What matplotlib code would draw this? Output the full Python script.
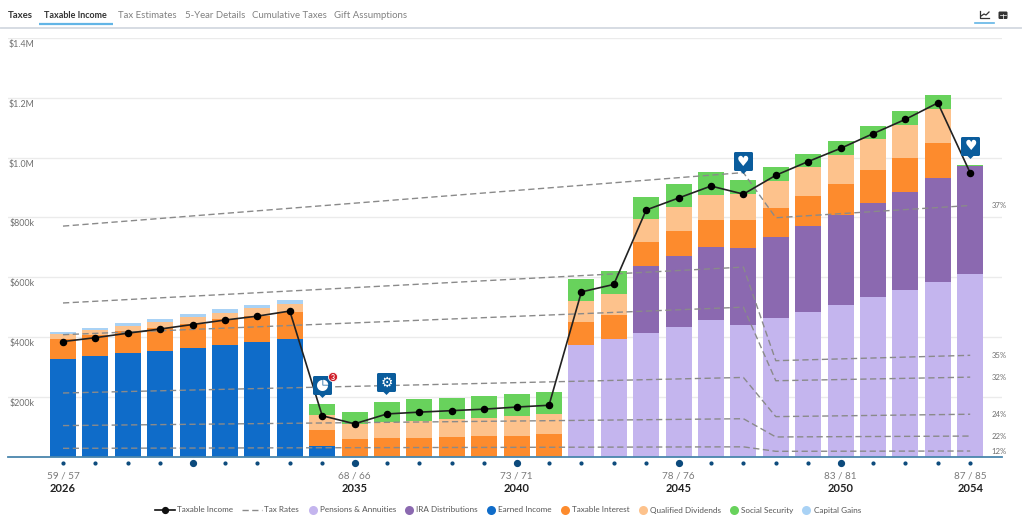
import matplotlib
matplotlib.use("Agg")
import matplotlib.pyplot as plt
import numpy as np
from matplotlib.lines import Line2D
from matplotlib.patches import FancyBboxPatch, Polygon, Circle, Wedge
from matplotlib.transforms import ScaledTranslation

plt.rcParams['font.family'] = ['Lato', 'DejaVu Sans']

years = list(range(2026, 2055))
pensions = [0]*16 + [374, 394, 414, 434, 457, 440, 463, 485, 508, 534, 556, 585, 611]
ira = [0]*18 + [222, 236, 245, 259, 272, 288, 299, 315, 330, 346, 360]
earned = [328, 337, 346, 355, 363, 374, 382, 392, 35] + [0]*20
interest = [65, 69, 73, 77, 81, 85, 89, 93, 54, 58, 61, 64, 66, 69, 70, 75,
            75, 79, 82, 84, 88, 92, 96, 100, 105, 108, 114, 119, 0]
qualified = [16, 17, 19, 20, 22, 23, 25, 27, 50, 53, 54, 55, 59, 61, 66, 67,
             71, 72, 77, 80, 85, 88, 91, 95, 98, 105, 109, 113, 0]
social = [0]*8 + [37, 39, 68, 73, 72, 73, 74, 74,
                  74, 76, 75, 77, 77, 47, 45, 45, 47, 45, 46, 48, 5]
capital = [8, 9, 9, 10, 10, 11, 11, 12] + [0]*21
taxable = [385, 398, 413, 427, 442, 457, 470, 487, 137, 110, 143, 149, 154, 159, 166, 172,
           551, 576, 825, 865, 905, 878, 941, 987, 1031, 1080, 1128, 1183, 949]

rate_years = [2026, 2047, 2048, 2054]
rates = {
    '37%': [771, 950, 799, 840],
    '35%': [514, 634, 321, 339],
    '32%': [408, 500, 254, 266],
    '24%': [213, 265, 134, 142],
    '22%': [104, 127, 66, 69],
    '12%': [28, 33, 18, 19],
}
tick_years = [2026, 2035, 2040, 2045, 2050, 2054]
age_labels = ['59 / 57', '68 / 66', '73 / 71', '78 / 76', '83 / 81', '87 / 85']
big_dot_years = [2030, 2035, 2040, 2045, 2050]
y_ticks = [200, 400, 600, 800, 1000, 1200, 1400]
y_labels = ['$200k', '$400k', '$600k', '$800k', '$1.0M', '$1.2M', '$1.4M']
tabs = ['Taxes', 'Taxable Income', 'Tax Estimates', '5-Year Details', 'Cumulative Taxes', 'Gift Assumptions']
tab_x = [8, 44, 118, 185, 252, 334]
tab_size = [6.9, 6.5, 6.9, 6.9, 6.9, 6.9]

series = [
    ('Pensions & Annuities', pensions, '#c4b5ee'),
    ('IRA Distributions', ira, '#8b69b0'),
    ('Earned Income', earned, '#0f6cc9'),
    ('Taxable Interest', interest, '#fd8b2d'),
    ('Qualified Dividends', qualified, '#fdc28c'),
    ('Social Security', social, '#68d25c'),
    ('Capital Gains', capital, '#a9d2f5'),
]

W, H = 1024, 518
fig = plt.figure(figsize=(W/100, H/100), dpi=100, facecolor='white')
L, R, T, B = 8, 1002, 38, 456.7
ax = fig.add_axes([L/W, 1-B/H, (R-L)/W, (B-T)/H])
ax.set_xlim(2026-55/32.4, 2026+939/32.4)
ax.set_ylim(0, 1400)
for s in ['top', 'left', 'right']:
    ax.spines[s].set_visible(False)
ax.spines['bottom'].set_color('#4a86ad')
ax.spines['bottom'].set_linewidth(1.3)
ax.set_axisbelow(True)
ax.yaxis.grid(True, color='#ebebeb', lw=1)
ax.set_yticks(y_ticks, y_labels)
ax.tick_params(axis='y', length=0, pad=-18.9, labelsize=6.4, labelcolor='#6f6f6f')
shift = ScaledTranslation(0, -2/100, fig.dpi_scale_trans)
for t in ax.get_yticklabels():
    t.set_va('top'); t.set_ha('right')
    t.set_transform(t.get_transform() + shift)
ax.set_xticks(tick_years, age_labels)
ax.tick_params(axis='x', length=0, pad=11, labelsize=7.2, labelcolor='#7a7a7a')

bottom = np.zeros(len(years))
handles = []
for name, vals, col in series:
    ax.bar(years, vals, bottom=bottom, width=0.8, color=col, linewidth=0, zorder=2)
    bottom += np.array(vals)
    handles.append(Line2D([], [], ls='none', marker='o', ms=6.5, mfc=col, mec='none', label=name))

for lab, vals in rates.items():
    ax.plot(rate_years, vals, color='#8a8a8a', lw=1, dashes=(4.5, 2.5), zorder=3)
    ax.text(2054.66, vals[-1], lab, fontsize=5.6, color='#6f6f6f', va='center', ha='left', zorder=5)

ax.plot(years, taxable, color='#222222', lw=1.2, marker='o', ms=4.4,
        mfc='black', mec='black', zorder=4)

trans = ax.get_xaxis_transform()
dy = -(463.3-B)/(B-T)
for yr in years:
    big = yr in big_dot_years
    ax.plot([yr], [dy], transform=trans, clip_on=False, marker='o',
            ms=4.2 if big else 2, color='#0c4a7c', ls='none')
for yr in tick_years:
    ax.text(yr, -(488-B)/(B-T), str(yr), transform=trans, ha='center', va='center',
            fontsize=8, fontweight='bold', color='#222222')

tax_h = Line2D([], [], color='#111111', lw=1.2, marker='o', ms=4.2, label='Taxable Income')
rate_h = Line2D([], [], color='#8a8a8a', lw=1, dashes=(4.5, 2.5), label='Tax Rates')
leg1 = fig.legend(handles=[tax_h, rate_h], loc='center left', bbox_to_anchor=(155/W, 1-510/H),
                  ncols=2, frameon=False, fontsize=5.9, labelcolor='#555555', borderaxespad=0,
                  handlelength=2.44, handletextpad=0.25, columnspacing=1.1, borderpad=0)
leg2 = fig.legend(handles=handles, loc='center left', bbox_to_anchor=(308.5/W, 1-510/H),
                  ncols=7, frameon=False, fontsize=5.9, labelcolor='#555555', borderaxespad=0,
                  handlelength=1.0, handletextpad=0.37, columnspacing=1.1, borderpad=0)

# Page chrome drawn in pixel coordinates
ov = fig.add_axes([0, 0, 1, 1], zorder=6)
ov.set_xlim(0, W); ov.set_ylim(H, 0); ov.axis('off'); ov.patch.set_alpha(0)
for i, (tx, x, sz) in enumerate(zip(tabs, tab_x, tab_size)):
    ov.text(x, 15, tx, fontsize=sz, va='center', ha='left',
            fontweight='bold' if i < 2 else 'normal',
            color='#333333' if i < 2 else '#808080')
ov.plot([39, 113], [24, 24], color='#62b5e6', lw=1.6, solid_capstyle='butt')
ov.plot([1, 1021], [27.8, 27.8], color='#d6dce3', lw=1.4)
ov.plot([975, 994], [23, 23], color='#62b5e6', lw=1.2)
ov.plot([980, 980, 989], [11, 18, 18], color='#333333', lw=0.9)
ov.plot([981, 984, 986, 989], [16, 14, 15, 12], color='#333333', lw=0.9)
ov.add_patch(FancyBboxPatch((999, 12), 8, 6.5, boxstyle='round,pad=0.5,rounding_size=1.2', fc='#333333', ec='none'))
ov.plot([1000, 1006], [15.2, 15.2], color='white', lw=0.5)
ov.plot([1003, 1003], [14, 18.5], color='white', lw=0.5)

def pin(x0, y0, glyph):
    c = '#0a5c9c'
    ov.add_patch(FancyBboxPatch((x0+1.5, y0+1.5), 16, 16, boxstyle='round,pad=1.5,rounding_size=1.5', fc=c, ec='none'))
    xm = x0+9.5
    ov.add_patch(Polygon([(xm-3, y0+19), (xm+3, y0+19), (xm, y0+22)], fc=c, ec='none'))
    if glyph == 'pie':
        ov.add_patch(Wedge((xm, y0+9.5), 5.5, 0, 270, fc='white', ec='none'))
        ov.add_patch(Wedge((xm+0.7, y0+8.8), 5, 270, 360, fc='white', ec='none'))
    else:
        ov.text(xm, y0+9.5, glyph, color='white', ha='center', va='center', fontsize=10, family='DejaVu Sans')

pin(313, 376, 'pie')
pin(377, 373, '\u2699')
pin(734, 152, '\u2665')
pin(961, 137, '\u2665')
ov.add_patch(Circle((333, 377), 4.6, fc='#d0202b', ec='white', lw=0.6))
ov.text(333, 377, '3', color='white', fontsize=5, ha='center', va='center', fontweight='bold')

fig.savefig('out.png', dpi=100)
